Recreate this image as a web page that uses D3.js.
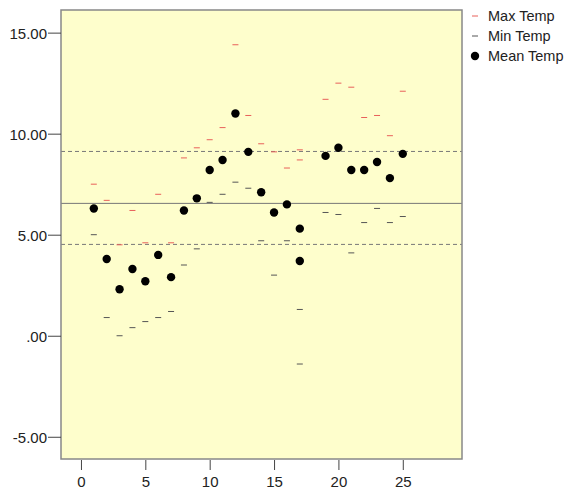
<!DOCTYPE html>
<html>
<head>
<meta charset="UTF-8">
<title></title>
<style>
    body { margin: 0; background: #fff; }
    svg { font-family: "Liberation Sans", Arial, sans-serif; }
    .axis text { font-size: 15px; fill: #222; }
    .axis line { stroke: #444; }
    .legend text { font-size: 14.5px; fill: #222; }
</style>
</head>
<body>
<svg id="chart" width="567" height="492"></svg>
<script src="https://cdn.jsdelivr.net/npm/d3@7"></script>
<script>

    let day      = [1,2,3,4,5,6,7,8,9,10,11,12,13,14,15,16,17,17,19,20,21,22,23,24,25];
    let maxTemp  = [7.5,6.7,4.5,6.2,4.6,7.0,4.6,8.8,9.3,9.7,10.3,14.4,10.9,9.5,9.1,8.3,9.2,8.7,11.7,12.5,12.3,10.8,10.9,9.9,12.1];
    let minTemp  = [5.0,0.9,0.0,0.4,0.7,0.9,1.2,3.5,4.3,6.6,7.0,7.6,7.3,4.7,3.0,4.7,1.3,-1.4,6.1,6.0,4.1,5.6,6.3,5.6,5.9];
    let meanTemp = [6.3,3.8,2.3,3.3,2.7,4.0,2.9,6.2,6.8,8.2,8.7,11.0,9.1,7.1,6.1,6.5,5.3,3.7,8.9,9.3,8.2,8.2,8.6,7.8,9.0];

    let refSolid  = [6.55];
    let refDashed = [4.52, 9.12];

    let xTicks = [0,5,10,15,20,25];
    let yTicks = [-5,0,5,10,15];
    let seriesNames = ['Max Temp','Min Temp','Mean Temp'];

    let plot = {left: 61, right: 462, top: 10, bottom: 459};

    let svg = d3.select('#chart');

    let x = d3.scaleLinear()
        .domain([-1.55, 29.6])
        .range([plot.left, plot.right]);

    let y = d3.scaleLinear()
        .domain([-6.1, 16.12])
        .range([plot.bottom, plot.top]);

    // background
    svg.append('rect')
        .attr('x', plot.left)
        .attr('y', plot.top)
        .attr('width', plot.right - plot.left)
        .attr('height', plot.bottom - plot.top)
        .attr('fill', '#fefecc');

    // reference lines
    svg.selectAll('.ref-solid')
        .data(refSolid)
        .enter().append('line')
        .attr('x1', plot.left).attr('x2', plot.right)
        .attr('y1', d => y(d)).attr('y2', d => y(d))
        .attr('stroke', '#777')
        .attr('stroke-width', 1);

    svg.selectAll('.ref-dash')
        .data(refDashed)
        .enter().append('line')
        .attr('x1', plot.left).attr('x2', plot.right)
        .attr('y1', d => y(d)).attr('y2', d => y(d))
        .attr('stroke', '#777')
        .attr('stroke-width', 1)
        .attr('stroke-dasharray', '4,3');

    // max / min markers
    let dashW = 3;
    svg.selectAll('.max')
        .data(day)
        .enter().append('line')
        .attr('x1', (d) => x(d) - dashW).attr('x2', (d) => x(d) + dashW)
        .attr('y1', (d, i) => y(maxTemp[i])).attr('y2', (d, i) => y(maxTemp[i]))
        .attr('stroke', '#e8605a')
        .attr('stroke-width', 1);

    svg.selectAll('.min')
        .data(day)
        .enter().append('line')
        .attr('x1', (d) => x(d) - dashW).attr('x2', (d) => x(d) + dashW)
        .attr('y1', (d, i) => y(minTemp[i])).attr('y2', (d, i) => y(minTemp[i]))
        .attr('stroke', '#555')
        .attr('stroke-width', 1);

    svg.selectAll('.mean')
        .data(day)
        .enter().append('circle')
        .attr('cx', (d) => x(d))
        .attr('cy', (d, i) => y(meanTemp[i]))
        .attr('r', 4.2)
        .attr('fill', '#000');

    // frame
    svg.append('rect')
        .attr('x', plot.left)
        .attr('y', plot.top)
        .attr('width', plot.right - plot.left)
        .attr('height', plot.bottom - plot.top)
        .attr('fill', 'none')
        .attr('stroke', '#888')
        .attr('stroke-width', 1.5);

    // axes
    let yFmt = v => {
        let s = d3.format('.2f')(v).replace('\u2212', '-');
        return s.replace(/^0\./, '.');
    };

    let yAxis = svg.append('g')
        .attr('class', 'axis')
        .attr('transform', 'translate(' + plot.left + ',0)')
        .call(d3.axisLeft(y).tickValues(yTicks).tickFormat(yFmt).tickSize(13).tickSizeOuter(0).tickPadding(1));
    yAxis.select('.domain').remove();
    yAxis.selectAll('text').attr('dy', '0.4em');

    let xAxis = svg.append('g')
        .attr('class', 'axis')
        .attr('transform', 'translate(0,' + (plot.bottom + 1) + ')')
        .call(d3.axisBottom(x).tickValues(xTicks).tickSize(10).tickSizeOuter(0).tickPadding(6));
    xAxis.select('.domain').remove();

    // legend
    let legend = svg.append('g').attr('class', 'legend');
    let legY = d3.scalePoint().domain(seriesNames).range([16, 56]);

    seriesNames.forEach((name, i) => {
        let g = legend.append('g').attr('transform', 'translate(475,' + legY(name) + ')');
        if (i < 2) {
            g.append('line')
                .attr('x1', -3).attr('x2', 3)
                .attr('stroke', i === 0 ? '#e8605a' : '#555');
        } else {
            g.append('circle').attr('r', 4.2).attr('fill', '#000');
        }
        g.append('text')
            .attr('x', 13)
            .attr('dy', '0.35em')
            .text(name);
    });

</script>
</body>
</html>
